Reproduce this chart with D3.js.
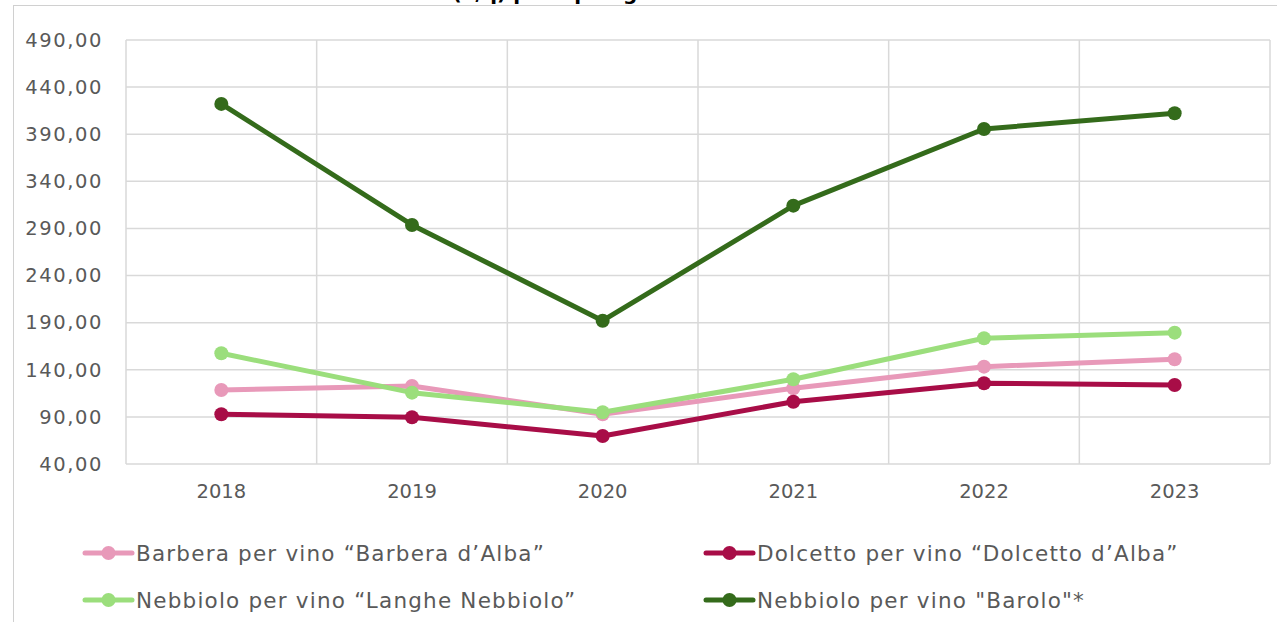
<!DOCTYPE html>
<html><head><meta charset="utf-8">
<script src="https://cdn.jsdelivr.net/npm/d3@7"></script>
<style>body{margin:0;background:#fff;overflow:hidden}svg{display:block}</style>
</head><body>
<svg id="c" width="1279" height="622"></svg>
<script>
const years = ["2018","2019","2020","2021","2022","2023"];
const yTicks = [40,90,140,190,240,290,340,390,440,490];
const barbera = [118.6,122.8,92.8,120.4,143.3,151.1];
const dolcetto = [92.8,89.6,69.7,106.1,125.7,123.9];
const langhe = [157.5,115.7,94.9,129.9,173.4,179.4];
const barolo = [422.2,293.7,192.1,314.2,395.6,412.3];
const seriesNames = ["Barbera per vino “Barbera d’Alba”","Dolcetto per vino “Dolcetto d’Alba”","Nebbiolo per vino “Langhe Nebbiolo”","Nebbiolo per vino \"Barolo\"*"];
const seriesColors = ["#E899B9","#A80D47","#9BDE7C","#346B1B"];
const seriesData = [barbera,dolcetto,langhe,barolo];

const svg = d3.select("#c");
const font = "DejaVu Sans";
const L=126,R=1270,T=40,B=464;
const x = d3.scaleBand().domain(years).range([L,R]);
const y = d3.scaleLinear().domain([40,490]).range([B,T]);

// outer frame
svg.append("line").attr("x1",13).attr("x2",1277).attr("y1",5.5).attr("y2",5.5).attr("stroke","#d0d0d0");
svg.append("line").attr("x1",13.5).attr("x2",13.5).attr("y1",5).attr("y2",622).attr("stroke","#d0d0d0");
// clipped title fragment (only its lower edge is visible in the original)
svg.append("text").attr("x",555).attr("y",0).attr("text-anchor","middle").attr("font-family",font).attr("font-weight","bold").attr("font-size",20).attr("fill","#000").text("(€/q) per tipologia");

// grid
const g = svg.append("g");
g.selectAll(".h").data(yTicks).join("line").attr("x1",L).attr("x2",R).attr("y1",d=>y(d)).attr("y2",d=>y(d)).attr("stroke","#d9d9d9").attr("stroke-width",1.5);
const vb = years.map(d=>x(d)).concat([R]);
g.selectAll(".v").data(vb).join("line").attr("x1",d=>d).attr("x2",d=>d).attr("y1",T).attr("y2",B).attr("stroke","#d9d9d9").attr("stroke-width",1.5);

// y axis labels
const yAxis = d3.axisLeft(y).tickValues(yTicks).tickSize(0).tickPadding(23).tickFormat(d=>d3.format(".2f")(d).replace(".",","));
const ya = svg.append("g").attr("transform",`translate(${L},0)`).call(yAxis);
ya.select(".domain").remove();
ya.selectAll("text").attr("font-family",font).attr("font-size",19.5).attr("letter-spacing",1.6).attr("fill","#595959");
// x axis labels
const xAxis = d3.axisBottom(x).tickSize(0).tickPadding(20);
const xa = svg.append("g").attr("transform",`translate(0,${B})`).call(xAxis);
xa.select(".domain").remove();
xa.selectAll("text").attr("font-family",font).attr("font-size",19.5).attr("fill","#595959");

// lines
const line = d3.line().x((d,i)=>x(years[i])+x.bandwidth()/2).y(d=>y(d));
seriesData.forEach((s,k)=>{
  svg.append("path").datum(s).attr("d",line).attr("fill","none").attr("stroke",seriesColors[k]).attr("stroke-width",5).attr("stroke-linejoin","round");
  svg.selectAll(null).data(s).join("circle").attr("cx",(d,i)=>x(years[i])+x.bandwidth()/2).attr("cy",d=>y(d)).attr("r",7).attr("fill",seriesColors[k]);
});

// legend
const legPos = [[85,553],[706,553],[85,600],[706,600]];
seriesNames.forEach((n,k)=>{
  const [lx,ly]=legPos[k];
  const lg = svg.append("g").attr("transform",`translate(${lx},${ly})`);
  lg.append("line").attr("x1",0).attr("x2",47).attr("y1",0).attr("y2",0).attr("stroke",seriesColors[k]).attr("stroke-width",5).attr("stroke-linecap","round");
  lg.append("circle").attr("cx",23.5).attr("cy",0).attr("r",7).attr("fill",seriesColors[k]);
  lg.append("text").attr("x",51).attr("y",0).attr("dy","0.35em").attr("font-family",font).attr("font-size",21.5).attr("letter-spacing",1.2).attr("fill","#595959").text(n);
});
</script>
</body></html>
